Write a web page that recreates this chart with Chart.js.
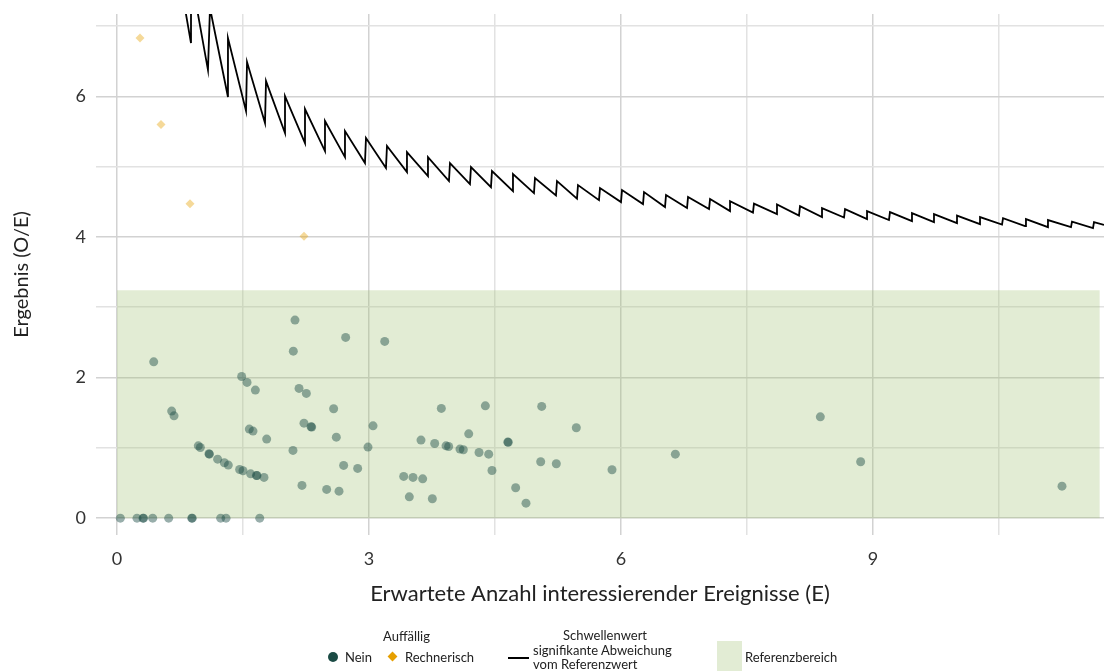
<!DOCTYPE html>
<html>
<head>
<meta charset="utf-8">
<script src="https://cdn.jsdelivr.net/npm/chart.js@4"></script>
<style>
body { margin: 0; background: #fff; }
#wrap { position: relative; width: 1104px; height: 671px; overflow: hidden; font-family: Lato, sans-serif; }
#wrap canvas { position: absolute; left: 0; top: 0; }
.lg { position: absolute; font-size: 13px; line-height: 14px; color: #222; white-space: nowrap; }
</style>
</head>
<body>
<div id="wrap">
  <canvas id="myChart" width="1104" height="671"></canvas>
  <span class="lg" style="left:383px;top:629px">Auffällig</span>
  <div style="position:absolute;left:328px;top:652px;width:10px;height:10px;border-radius:50%;background:#1b4b45"></div>
  <span class="lg" style="left:345px;top:650px">Nein</span>
  <div style="position:absolute;left:389px;top:653px;width:7px;height:7px;transform:rotate(45deg);background:#e69f00"></div>
  <span class="lg" style="left:405px;top:650px">Rechnerisch</span>
  <div style="position:absolute;left:508px;top:657px;width:21px;height:2px;background:#000"></div>
  <span class="lg" style="left:563px;top:628px">Schwellenwert</span>
  <span class="lg" style="left:533px;top:643px">signifikante Abweichung</span>
  <span class="lg" style="left:533px;top:657px">vom Referenzwert</span>
  <div style="position:absolute;left:717px;top:641px;width:25px;height:30px;background:#e2ecd4"></div>
  <span class="lg" style="left:745px;top:650px">Referenzbereich</span>
</div>
<script>
// Auffällig: Nein
var neinE = [0.437, 1.484, 1.548, 1.647, 0.651, 0.679, 2.099, 2.119, 2.722, 3.187,
    2.167, 2.254, 2.579, 3.861, 1.575, 1.619, 1.782, 2.226, 2.310, 2.318,
    2.611, 3.048, 2.988, 3.619, 3.782, 3.917, 3.948, 0.968, 0.992, 1.095,
    1.100, 1.198, 1.278, 1.325, 1.460, 1.500, 1.591, 1.660, 1.667, 1.750,
    2.095, 2.202, 2.496, 2.643, 2.698, 2.865, 3.413, 3.524, 3.639, 3.480,
    3.754, 4.385, 5.056, 5.468, 4.187, 4.083, 4.123, 4.310, 4.425, 4.652,
    4.658, 6.647, 4.464, 5.044, 5.230, 5.893, 4.746, 4.869, 8.373, 8.853,
    11.25, 0.04, 0.238, 0.310, 0.316, 0.425, 0.615, 0.890, 0.896, 1.234,
    1.298, 1.699];
var neinOE = [2.223, 2.015, 1.930, 1.821, 1.522, 1.455, 2.375, 2.817, 2.570, 2.513,
    1.845, 1.774, 1.555, 1.560, 1.266, 1.238, 1.124, 1.351, 1.299, 1.295,
    1.152, 1.313, 1.010, 1.110, 1.062, 1.028, 1.019, 1.028, 1.005, 0.915,
    0.910, 0.839, 0.787, 0.754, 0.692, 0.673, 0.630, 0.607, 0.605, 0.579,
    0.963, 0.465, 0.408, 0.384, 0.750, 0.707, 0.593, 0.579, 0.559, 0.303,
    0.275, 1.597, 1.589, 1.285, 1.199, 0.982, 0.972, 0.934, 0.910, 1.081,
    1.079, 0.910, 0.678, 0.801, 0.773, 0.688, 0.432, 0.213, 1.441, 0.801,
    0.455, 0, 0, 0, 0, 0, 0, 0, 0, 0,
    0, 0];

// Auffällig: Rechnerisch
var rechnerischE = [0.274, 0.524, 0.869, 2.226];
var rechnerischOE = [6.83, 5.60, 4.47, 4.01];

// Schwellenwert signifikante Abweichung
var schwelleE = [0.786, 0.881, 0.881, 1.083, 1.107, 1.321, 1.321, 1.536, 1.548, 1.762,
    1.774, 2.0, 2.0, 2.238, 2.238, 2.476, 2.476, 2.714, 2.714, 2.952,
    2.964, 3.202, 3.214, 3.452, 3.452, 3.702, 3.702, 3.952, 3.964, 4.202,
    4.214, 4.452, 4.464, 4.714, 4.714, 4.964, 4.976, 5.226, 5.238, 5.476,
    5.488, 5.738, 5.750, 6.0, 6.012, 6.262, 6.274, 6.524, 6.536, 6.786,
    6.798, 7.048, 7.060, 7.298, 7.298, 7.571, 7.583, 7.857, 7.857, 8.119,
    8.131, 8.393, 8.393, 8.655, 8.667, 8.929, 8.929, 9.190, 9.202, 9.464,
    9.464, 9.726, 9.726, 10.0, 10.0, 10.274, 10.274, 10.536, 10.548, 10.810,
    10.821, 11.083, 11.083, 11.357, 11.369, 11.619, 11.631, 11.75];
var schwelleOE = [7.41, 6.757, 7.72, 6.373, 7.255, 5.989, 6.828, 5.790, 6.486, 5.619,
    6.216, 5.477, 6.003, 5.334, 5.818, 5.220, 5.647, 5.135, 5.505, 5.050,
    5.405, 4.979, 5.292, 4.922, 5.206, 4.865, 5.135, 4.794, 5.050, 4.751,
    4.993, 4.708, 4.936, 4.651, 4.893, 4.623, 4.837, 4.588, 4.794, 4.545,
    4.737, 4.523, 4.694, 4.495, 4.666, 4.467, 4.637, 4.424, 4.595, 4.410,
    4.566, 4.395, 4.538, 4.367, 4.509, 4.346, 4.474, 4.324, 4.460, 4.303,
    4.438, 4.282, 4.410, 4.275, 4.395, 4.253, 4.367, 4.239, 4.353, 4.225,
    4.339, 4.211, 4.324, 4.196, 4.303, 4.182, 4.282, 4.175, 4.267, 4.154,
    4.253, 4.139, 4.239, 4.139, 4.218, 4.125, 4.211, 4.17];

// Referenzbereich
var referenzE = [0, 11.7];
var referenzOE = [3.24, 3.24];

var xTickValues = [0, 1.5, 3, 4.5, 6, 7.5, 9, 10.5];
var xTickLabels = ["0", "", "3", "", "6", "", "9", ""];
var yTickValues = [0, 1, 2, 3, 4, 5, 6, 7];
var yTickLabels = ["0", "", "2", "", "4", "", "6", ""];

function points(xs, ys) {
    return xs.map(function (x, i) { return { x: x, y: ys[i] }; });
}

function gridColor(ctx) {
    return ctx.tick && ctx.tick.label !== "" ? "#d2d2d2" : "#e2e2e2";
}

var ctx = document.getElementById("myChart").getContext("2d");
var myChart = new Chart(ctx, {
    type: "scatter",
    data: {
        datasets: [
            {
                label: "Nein",
                data: points(neinE, neinOE),
                backgroundColor: "rgba(27,75,69,0.45)",
                borderWidth: 0,
                pointRadius: 4.5,
                order: 1,
            },
            {
                label: "Rechnerisch",
                data: points(rechnerischE, rechnerischOE),
                backgroundColor: "rgba(230,159,0,0.4)",
                borderWidth: 0,
                pointStyle: "rectRot",
                pointRadius: 4.5,
                order: 2,
            },
            {
                type: "line",
                label: "Schwellenwert",
                data: points(schwelleE, schwelleOE),
                borderColor: "#000",
                borderWidth: 1.8,
                pointRadius: 0,
                tension: 0,
                fill: false,
                order: 3,
            },
            {
                type: "line",
                label: "Referenzbereich",
                data: points(referenzE, referenzOE),
                borderWidth: 0,
                borderColor: "rgba(0,0,0,0)",
                backgroundColor: "rgba(158,192,112,0.3)",
                pointRadius: 0,
                fill: "origin",
                order: 4,
            },
        ],
    },
    options: {
        animation: false,
        responsive: false,
        layout: { autoPadding: false, padding: { top: 14, right: 0, left: 0, bottom: 60 } },
        plugins: {
            legend: { display: false },
            tooltip: { enabled: false },
        },
        scales: {
            x: {
                type: "linear",
                min: -0.25,
                max: 11.75,
                afterBuildTicks: function (scale) {
                    scale.ticks = xTickValues.map(function (v) { return { value: v }; });
                },
                afterFit: function (scale) {
                    scale.height = 76;
                    scale.paddingLeft = 0;
                    scale.paddingRight = 0;
                },
                ticks: {
                    callback: function (value, index) { return xTickLabels[index]; },
                    padding: 13,
                    color: "#333",
                    font: { family: "Lato", size: 18 },
                },
                grid: { color: gridColor, lineWidth: 1.5, drawTicks: false },
                border: { display: false },
                title: {
                    display: true,
                    text: "Erwartete Anzahl interessierender Ereignisse (E)",
                    color: "#222",
                    font: { family: "Lato", size: 22 },
                    padding: { top: 4, bottom: 4 },
                },
            },
            y: {
                type: "linear",
                min: -0.24,
                max: 7.17,
                afterBuildTicks: function (scale) {
                    scale.ticks = yTickValues.map(function (v) { return { value: v }; });
                },
                afterFit: function (scale) {
                    scale.width = 96;
                    scale.paddingTop = 0;
                    scale.paddingBottom = 0;
                },
                ticks: {
                    callback: function (value, index) { return yTickLabels[index]; },
                    padding: 10,
                    color: "#333",
                    font: { family: "Lato", size: 18 },
                },
                grid: { color: gridColor, lineWidth: 1.5, drawTicks: false },
                border: { display: false },
                title: {
                    display: true,
                    text: "Ergebnis (O/E)",
                    color: "#222",
                    font: { family: "Lato", size: 20 },
                    padding: { top: 10, bottom: 0 },
                },
            },
        },
    },
});
</script>
</body>
</html>
